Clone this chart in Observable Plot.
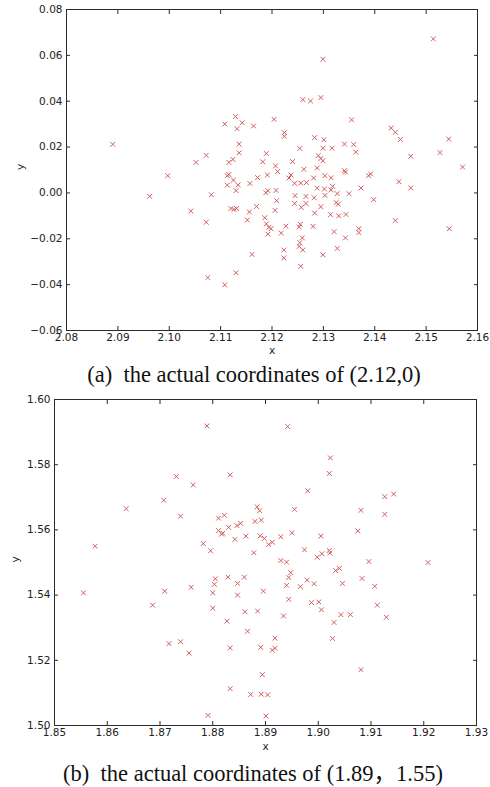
<!DOCTYPE html>
<html><head><meta charset="utf-8">
<script src="https://cdn.jsdelivr.net/npm/d3@7"></script>
<script src="https://cdn.jsdelivr.net/npm/@observablehq/plot@0.6"></script>
<style>
html,body{margin:0;padding:0;background:#fff;}
body{width:490px;height:787px;position:relative;overflow:hidden;}
.panel{position:absolute;left:0;}
.cap{position:absolute;width:490px;text-align:center;font-family:"Liberation Serif","Times New Roman","Noto Sans CJK SC",serif;font-size:22.5px;line-height:26px;color:#111;white-space:pre;}
</style></head><body>
<div id="pa" class="panel" style="top:0px"></div>
<div id="ca" class="cap" style="top:362px;left:9px"></div>
<div id="pb" class="panel" style="top:390px"></div>
<div id="cb" class="cap" style="top:761px;left:8px"></div>
<script>
// Panel (a): measured positions around (2.12, 0)
const pointsA = [
[2.0890,0.0212],[2.0962,-0.0015],[2.0997,0.0075],[2.1042,-0.0079],[2.1052,0.0133],
[2.1072,0.0164],[2.1072,-0.0128],[2.1082,-0.0008],[2.1075,-0.0369],[2.1108,-0.0401],
[2.1130,-0.0348],[2.1108,0.0300],[2.1129,0.0333],[2.1132,0.0280],[2.1142,0.0306],
[2.1136,0.0213],[2.1136,0.0175],[2.1116,0.0133],[2.1124,0.0146],[2.1113,0.0075],
[2.1116,0.0080],[2.1113,0.0034],[2.1125,0.0056],[2.1134,0.0035],[2.1130,0.0010],
[2.1120,-0.0068],[2.1126,-0.0072],[2.1131,-0.0068],[2.1156,-0.0083],[2.1152,-0.0118],
[2.1157,0.0041],[2.1161,-0.0268],[2.1164,0.0292],[2.1172,0.0067],[2.1191,0.0078],
[2.1211,0.0093],[2.1207,0.0118],[2.1189,0.0172],[2.1182,0.0136],[2.1204,0.0321],
[2.1224,0.0263],[2.1224,0.0247],[2.1188,0.0001],[2.1192,0.0010],[2.1208,0.0011],
[2.1209,-0.0034],[2.1170,-0.0059],[2.1206,-0.0076],[2.1186,-0.0108],[2.1189,-0.0135],
[2.1194,-0.0150],[2.1198,-0.0156],[2.1192,-0.0180],[2.1218,-0.0175],[2.1227,-0.0145],
[2.1223,-0.0249],[2.1223,-0.0283],[2.1260,0.0407],[2.1275,0.0401],[2.1295,0.0416],
[2.1299,0.0583],[2.1283,0.0241],[2.1301,0.0232],[2.1254,0.0194],[2.1299,0.0195],
[2.1317,0.0195],[2.1341,0.0213],[2.1359,0.0211],[2.1363,0.0178],[2.1290,0.0163],
[2.1295,0.0150],[2.1299,0.0140],[2.1240,0.0137],[2.1262,0.0103],[2.1288,0.0109],
[2.1341,0.0097],[2.1343,0.0091],[2.1233,0.0065],[2.1237,0.0078],[2.1281,0.0065],
[2.1303,0.0075],[2.1315,0.0066],[2.1388,0.0075],[2.1392,0.0083],[2.1355,0.0319],
[2.1432,0.0283],[2.1440,0.0264],[2.1450,0.0233],[2.1470,0.0160],[2.1447,0.0049],
[2.1470,0.0022],[2.1244,0.0042],[2.1256,0.0043],[2.1267,0.0045],[2.1288,0.0021],
[2.1302,0.0017],[2.1318,0.0029],[2.1315,0.0013],[2.1373,0.0021],[2.1303,-0.0011],
[2.1327,-0.0003],[2.1350,-0.0003],[2.1245,-0.0012],[2.1266,-0.0015],[2.1282,-0.0021],
[2.1398,-0.0029],[2.1244,-0.0046],[2.1257,-0.0063],[2.1266,-0.0046],[2.1295,-0.0060],
[2.1325,-0.0042],[2.1329,-0.0049],[2.1283,-0.0088],[2.1314,-0.0095],[2.1330,-0.0100],
[2.1344,-0.0094],[2.1440,-0.0120],[2.1253,-0.0148],[2.1255,-0.0137],[2.1280,-0.0146],
[2.1321,-0.0169],[2.1343,-0.0196],[2.1369,-0.0156],[2.1369,-0.0173],[2.1259,-0.0196],
[2.1254,-0.0217],[2.1253,-0.0233],[2.1260,-0.0249],[2.1327,-0.0242],[2.1299,-0.0270],
[2.1256,-0.0320],[2.1514,0.0672],[2.1544,0.0235],[2.1527,0.0176],[2.1571,0.0113],
[2.1545,-0.0156]
];
const xTicksA = [2.08,2.09,2.10,2.11,2.12,2.13,2.14,2.15,2.16];
const yTicksA = [-0.06,-0.04,-0.02,0.00,0.02,0.04,0.06,0.08];
const captionA = "(a)  the actual coordinates of (2.12,0)";

// Panel (b): measured positions around (1.89, 1.55)
const pointsB = [
[1.8789,1.5919],[1.8942,1.5917],[1.9023,1.5821],[1.9021,1.5773],[1.8731,1.5764],
[1.8833,1.5769],[1.8763,1.5738],[1.8980,1.5720],[1.8707,1.5691],[1.9126,1.5702],
[1.9143,1.5710],[1.8636,1.5665],[1.8884,1.5671],[1.8889,1.5659],[1.8955,1.5663],
[1.9081,1.5660],[1.9126,1.5648],[1.8739,1.5642],[1.8811,1.5636],[1.8822,1.5645],
[1.8880,1.5626],[1.8892,1.5630],[1.8830,1.5608],[1.8846,1.5613],[1.8853,1.5620],
[1.8811,1.5598],[1.8817,1.5587],[1.8819,1.5590],[1.8842,1.5571],[1.8863,1.5581],
[1.8890,1.5582],[1.8898,1.5574],[1.8906,1.5555],[1.8913,1.5562],[1.8929,1.5579],
[1.8950,1.5591],[1.9005,1.5581],[1.9075,1.5597],[1.8782,1.5558],[1.8796,1.5536],
[1.8878,1.5530],[1.8974,1.5539],[1.8998,1.5516],[1.9007,1.5527],[1.9021,1.5537],
[1.9022,1.5529],[1.8929,1.5506],[1.8940,1.5501],[1.9096,1.5503],[1.9033,1.5475],
[1.9040,1.5482],[1.8948,1.5469],[1.8944,1.5454],[1.8805,1.5450],[1.8803,1.5433],
[1.8829,1.5455],[1.8860,1.5455],[1.8847,1.5436],[1.8940,1.5430],[1.8979,1.5446],
[1.8992,1.5435],[1.8966,1.5426],[1.9046,1.5436],[1.9083,1.5451],[1.9107,1.5427],
[1.8709,1.5412],[1.8759,1.5424],[1.8800,1.5407],[1.8896,1.5412],[1.8847,1.5400],
[1.8944,1.5387],[1.8686,1.5369],[1.8800,1.5360],[1.8861,1.5349],[1.8885,1.5351],
[1.8987,1.5377],[1.9001,1.5379],[1.9006,1.5355],[1.8934,1.5336],[1.9043,1.5340],
[1.9061,1.5340],[1.9112,1.5369],[1.9129,1.5332],[1.8827,1.5320],[1.9030,1.5316],
[1.8866,1.5289],[1.9027,1.5267],[1.8918,1.5268],[1.8717,1.5251],[1.8739,1.5257],
[1.8755,1.5222],[1.8833,1.5238],[1.8891,1.5240],[1.8913,1.5231],[1.8918,1.5237],
[1.9081,1.5171],[1.8894,1.5156],[1.8833,1.5113],[1.8872,1.5095],[1.8892,1.5096],
[1.8904,1.5094],[1.8791,1.5031],[1.8901,1.5029],[1.8577,1.5550],[1.8555,1.5407],
[1.9208,1.5500]
];
const xTicksB = [1.85,1.86,1.87,1.88,1.89,1.90,1.91,1.92,1.93];
const yTicksB = [1.50,1.52,1.54,1.56,1.58,1.60];
const captionB = "(b)  the actual coordinates of (1.89\uFF0C1.55)";

const fmt = d3.format(".2f");
const markColor = "#d45c5c";
const frameColor = "#2a2a2a";

function panel({points, xDomain, yDomain, xTicks, yTicks, width, height, mL, mR, mT, mB, yLabelDx, xLabelDy}) {
  return Plot.plot({
    width, height,
    marginLeft: mL, marginRight: mR, marginTop: mT, marginBottom: mB,
    x: {domain: xDomain},
    y: {domain: yDomain},
    style: {fontFamily: "DejaVu Sans, sans-serif", fontSize: "10.5px", color: "#222", background: "#fff", overflow: "visible"},
    marks: [
      Plot.axisX(xTicks, {anchor: "bottom", tickSize: -4, tickPadding: 7, tickFormat: fmt, label: null, stroke: frameColor}),
      Plot.axisX(xTicks, {anchor: "top", tickSize: -4, tickFormat: () => "", label: null, stroke: frameColor}),
      Plot.axisY(yTicks, {anchor: "left", tickSize: -4, tickPadding: 8, tickFormat: fmt, label: null, stroke: frameColor}),
      Plot.axisY(yTicks, {anchor: "right", tickSize: -4, tickFormat: () => "", label: null, stroke: frameColor}),
      Plot.dot(points, {x: d => d[0], y: d => d[1], symbol: "times", r: 2.3, stroke: markColor, strokeWidth: 1}),
      Plot.frame({stroke: frameColor, strokeWidth: 1}),
      Plot.text(["x"], {text: d => d, frameAnchor: "bottom", dy: xLabelDy, fill: "#222"}),
      Plot.text(["y"], {text: d => d, frameAnchor: "left", dx: yLabelDx, rotate: -90, fill: "#222"})
    ]
  });
}

document.getElementById("pa").appendChild(panel({
  points: pointsA, xDomain: [2.08, 2.16], yDomain: [-0.06, 0.08],
  xTicks: xTicksA, yTicks: yTicksA,
  width: 490, height: 362, mL: 66, mR: 13, mT: 9, mB: 32, yLabelDx: -46, xLabelDy: 23
}));
document.getElementById("pb").appendChild(panel({
  points: pointsB, xDomain: [1.85, 1.93], yDomain: [1.50, 1.60],
  xTicks: xTicksB, yTicks: yTicksB,
  width: 490, height: 365, mL: 54, mR: 14, mT: 9, mB: 30, yLabelDx: -39, xLabelDy: 24
}));
document.getElementById("ca").textContent = captionA;
document.getElementById("cb").textContent = captionB;
</script>
</body></html>
